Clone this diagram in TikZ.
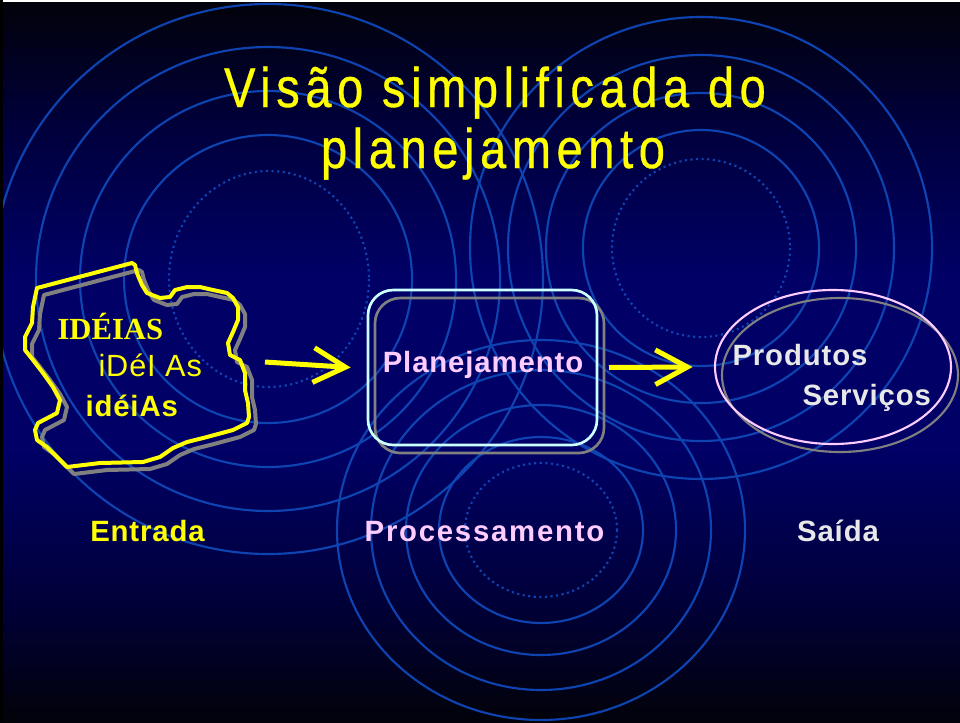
\documentclass[tikz,border=0pt]{standalone}
\usepackage{fontspec}
\setmainfont{Liberation Sans}
\newfontfamily\titulofonte[FakeStretch=0.84,FakeBold=0.6,LetterSpace=10]{Liberation Sans}
\newfontfamily\corpofonte[LetterSpace=3]{Liberation Sans}
\newfontfamily\largafonte[LetterSpace=6]{Liberation Sans}
\newfontfamily\serifafonte{Liberation Serif}
\usetikzlibrary{shapes.geometric,arrows.meta,positioning}

\definecolor{amarelo}{RGB}{255,255,0}
\definecolor{rosa}{RGB}{255,204,255}
\definecolor{ciano}{RGB}{204,255,255}
\definecolor{cinza}{RGB}{128,128,128}
\definecolor{claro}{RGB}{232,232,232}
\definecolor{anelcor}{RGB}{14,68,178}
\definecolor{marinho}{RGB}{0,0,102}
\definecolor{meiomarinho}{RGB}{0,0,58}
\definecolor{quasepreto}{RGB}{2,2,10}

\pgfdeclareverticalshading{fundo}{100bp}{color(0bp)=(quasepreto); color(25bp)=(quasepreto); color(33.5bp)=(meiomarinho); color(44bp)=(marinho); color(56bp)=(marinho); color(66.5bp)=(meiomarinho); color(75bp)=(quasepreto); color(100bp)=(quasepreto)}

\tikzset{
  every picture/.style={line width=0.75pt},
  anel/.style={draw=anelcor, line width=1.6pt},
  anelpontilhado/.style={anel, dash pattern=on 1.6pt off 2.6pt},
  contorno/.style={line width=3pt, line join=round},
  caixa/.style={rectangle, rounded corners=19pt, minimum width=171.75pt, minimum height=116.25pt, line width=2pt, inner sep=0pt},
  oval/.style={ellipse, minimum width=177pt, minimum height=115.5pt, line width=1.6pt, inner sep=0pt},
  seta/.style={draw=amarelo, line width=3.75pt, -{Straight Barb[length=24pt, width=26pt]}},
  titulo/.style={text=amarelo, font=\titulofonte\fontsize{42}{50}\selectfont, inner sep=0pt},
  rotulo/.style={font=\corpofonte\bfseries\fontsize{22}{26}\selectfont, inner sep=0pt},
  rotulolargo/.style={font=\largafonte\bfseries\fontsize{22}{26}\selectfont, inner sep=0pt},
}

\begin{document}
\begin{tikzpicture}[x=0.75pt,y=0.75pt,yscale=-1,xscale=1]
\useasboundingbox (0,0) rectangle (960,722);

%Shape: Background
\shade[shading=fundo] (0,0) rectangle (960,722);

\begin{scope}
\clip (0,0) rectangle (960,722);
%Shape: Rings left
\foreach \r in {144,188,232,275}
  \draw[anel] (268,279) circle[radius=\r];
\draw[anelpontilhado] (269,279) ellipse[x radius=100, y radius=108];
%Shape: Rings right
\foreach \r in {118,155,193,231}
  \draw[anel] (701,248) circle[radius=\r];
\draw[anelpontilhado] (701,248) circle[radius=89];
%Shape: Rings bottom
\foreach \r/\s in {102/93,135/125,170/160,204/190}
  \draw[anel] (541,530) ellipse[x radius=\r, y radius=\s];
\draw[anelpontilhado] (541,530) ellipse[x radius=76, y radius=67];
\end{scope}

%Shape: Edges of the slide
\fill[white] (0,0) rectangle (960,2);
\fill[black] (0,0) rectangle (3,722);

% Text Node
\node[titulo, anchor=base] (titulo1) at (495,107) {Visão simplificada do};
% Text Node
\node[titulo, anchor=base] (titulo2) at (493,168) {planejamento};

%Shape: Blob with shadow
\foreach \cor/\d in {cinza/7, amarelo/0}
  \draw[contorno, draw=\cor, shift={(\d,\d)}] (37,288) -- (132,263) -- (135,265) -- (137,273) -- (142,285)
    -- (147,293) -- (160,298) -- (170,297) -- (175,290) -- (187,287) -- (200,287) -- (213,290)
    -- (227,293) -- (233,298) -- (238,307) -- (238,320) -- (233,332) -- (228,343) -- (230,355)
    -- (240,360) -- (245,373) -- (245,390) -- (248,403) -- (249,417) -- (247,423) -- (233,430)
    -- (207,437) -- (187,442) -- (173,448) -- (160,457) -- (143,462) -- (100,463) -- (67,467)
    -- (57,457) -- (47,447) -- (37,440) -- (35,430) -- (38,423) -- (57,413) -- (60,400)
    -- (53,387) -- (43,373) -- (33,360) -- (25,350) -- (25,337) -- (32,323) -- (33,307) -- cycle;
\coordinate (blobleste) at (249,362);

% Text Node
\node[anchor=base west, inner sep=0pt, text=amarelo, font=\serifafonte\bfseries\fontsize{23}{26}\selectfont] (ideias1) at (57,339) {IDÉIAS};
% Text Node
\node[anchor=base west, inner sep=0pt, text=amarelo, font=\corpofonte\fontsize{23}{26}\selectfont] (ideias2) at (98,376) {iDéI As};
% Text Node
\node[rotulo, anchor=base west, text=amarelo] (ideias3) at (85,416) {idéiAs};

%Shape: Rounded box
\node[caixa, draw=cinza] (sombraplan) at (489.5,375.5) {};
\node[caixa, draw=ciano] (plan) at (482.5,367.5) {};
% Text Node
\node[rotulo, anchor=base, text=rosa] (txtplan) at (483,372) {Planejamento};

%Shape: Ellipse
\node[oval, draw=cinza] (sombrasaida) at (840,375) {};
\node[oval, draw=rosa] (saida) at (833,367) {};
% Text Node
\node[rotulo, anchor=base west, text=claro] (produtos) at (732,365) {Produtos};
% Text Node
\node[rotulo, anchor=base west, text=claro] (servicos) at (802,405) {Serviços};

%Straight Lines
\draw[seta] ([xshift=12pt]blobleste) -- ([xshift=-12pt]plan.west);
\draw[seta] ([xshift=8pt]plan.east) -- ([xshift=-16pt]saida.west);

% Text Node
\node[rotulo, anchor=base, text=amarelo] (entrada) at (147.5,541) {Entrada};
% Text Node
\node[rotulolargo, anchor=base, text=rosa] (processo) at (484.5,541) {Processamento};
% Text Node
\node[rotulo, anchor=base, text=claro] (saidatxt) at (838,541) {Saída};

\end{tikzpicture}
\end{document}
